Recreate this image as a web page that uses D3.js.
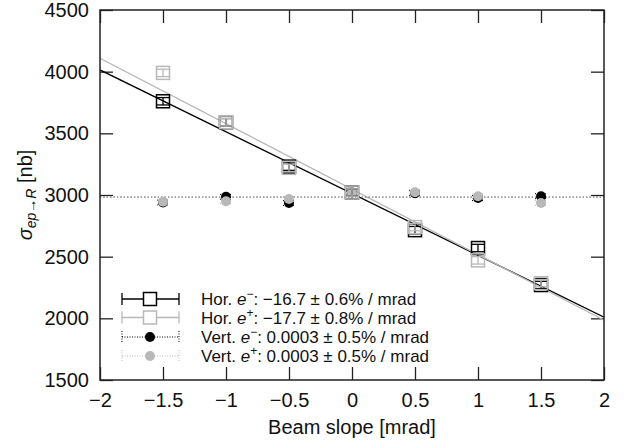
<!DOCTYPE html>
<html>
<head>
<meta charset="utf-8">
<script src="https://cdn.jsdelivr.net/npm/d3@7"></script>
<style>
  html, body { margin: 0; padding: 0; background: #fff; }
  svg { display: block; font-family: "Liberation Sans", Arial, sans-serif; }
</style>
</head>
<body>
<svg id="chart" width="638" height="441"></svg>
<script>
// ---- data ----
const slopes = [-1.5, -1, -0.5, 0, 0.5, 1, 1.5];
const horElectron = [3760, 3590, 3230, 3020, 2715, 2570, 2270];
const horElectronErr = [30, 30, 30, 30, 30, 30, 30];
const horPositron = [3990, 3590, 3220, 3020, 2740, 2470, 2285];
const horPositronErr = [30, 30, 30, 30, 30, 30, 30];
const vertElectron = [2940, 2985, 2935, 3020, 3015, 2975, 2990];
const vertElectronErr = [20, 20, 20, 20, 20, 20, 20];
const vertPositron = [2945, 2950, 2968, 3020, 3022, 2990, 2935];
const vertPositronErr = [20, 20, 20, 20, 20, 20, 20];
const fitIntercepts = [3012, 3047, 2982, 2982];
const fitSlopes = [-501, -531, 0, 0];
const xTicks = [-2, -1.5, -1, -0.5, 0, 0.5, 1, 1.5, 2];
const yTicks = [1500, 2000, 2500, 3000, 3500, 4000, 4500];
const legendSeries = ["Hor.", "Hor.", "Vert.", "Vert."];
const legendCharge = ["−", "+", "−", "+"];
const legendValues = ["−16.7 ± 0.6% / mrad", "−17.7 ± 0.8% / mrad", "0.0003 ± 0.5% / mrad", "0.0003 ± 0.5% / mrad"];

// ---- layout ----
const svg = d3.select("#chart");
const L = 100, R = 604, T = 10, B = 380;
const x = d3.scaleLinear().domain([-2, 2]).range([L, R]);
const y = d3.scaleLinear().domain([1500, 4500]).range([B, T]);
const BLACK = "#000", GREY = "#b8b8b8", AXIS = "#222";
const FS = 20;

const series = [
  {vals: horElectron, errs: horElectronErr, color: BLACK, kind: "square"},
  {vals: horPositron, errs: horPositronErr, color: GREY, kind: "square"},
  {vals: vertElectron, errs: vertElectronErr, color: BLACK, kind: "dot"},
  {vals: vertPositron, errs: vertPositronErr, color: GREY, kind: "dot"}
];

svg.append("defs").append("clipPath").attr("id", "clip")
  .append("rect").attr("x", L).attr("y", T).attr("width", R - L).attr("height", B - T);

// axes (inward ticks on all sides)
const tk = 13;
const gx = svg.append("g").attr("transform", `translate(0,${B})`)
  .call(d3.axisBottom(x).tickValues(xTicks).tickSize(-tk).tickPadding(13).tickFormat(d3.format("")));
const gxt = svg.append("g").attr("transform", `translate(0,${T})`)
  .call(d3.axisTop(x).tickValues(xTicks).tickSize(-tk).tickFormat(""));
const gy = svg.append("g").attr("transform", `translate(${L},0)`)
  .call(d3.axisLeft(y).tickValues(yTicks).tickSize(-tk).tickPadding(11).tickFormat(d3.format("d")));
const gyr = svg.append("g").attr("transform", `translate(${R},0)`)
  .call(d3.axisRight(y).tickValues(yTicks).tickSize(-tk).tickFormat(""));
[gx, gxt, gy, gyr].forEach(g => {
  g.select(".domain").remove();
  g.selectAll(".tick line").attr("stroke", AXIS).attr("stroke-width", 1.3);
  g.selectAll("text").attr("font-size", FS).attr("fill", "#111")
    .attr("font-family", "Liberation Sans, Arial, sans-serif");
});

// fit lines
const fitG = svg.append("g").attr("clip-path", "url(#clip)");
const fitStyles = [
  {color: BLACK, w: 1.3, dash: null},
  {color: GREY, w: 1.3, dash: null},
  {color: "#333", w: 1.2, dash: "1.2,2.2"},
  {color: GREY, w: 1.2, dash: "1.2,2.2"}
];
fitIntercepts.forEach((a, i) => {
  const b = fitSlopes[i];
  fitG.append("line")
    .attr("x1", x(-2)).attr("y1", y(a + b * -2))
    .attr("x2", x(2)).attr("y2", y(a + b * 2))
    .attr("stroke", fitStyles[i].color).attr("stroke-width", fitStyles[i].w)
    .attr("stroke-dasharray", fitStyles[i].dash);
});

// data points
const sq = 13;
function drawSquare(g, cx, cy, yTop, yBot, color) {
  g.append("line").attr("x1", cx).attr("x2", cx).attr("y1", yTop).attr("y2", yBot)
    .attr("stroke", color).attr("stroke-width", 1.3);
  [yTop, yBot].forEach(yy => g.append("line")
    .attr("x1", cx - sq / 2).attr("x2", cx + sq / 2).attr("y1", yy).attr("y2", yy)
    .attr("stroke", color).attr("stroke-width", 1.3));
  g.append("rect").attr("x", cx - sq / 2).attr("y", cy - sq / 2)
    .attr("width", sq).attr("height", sq)
    .attr("fill", "none").attr("stroke", color).attr("stroke-width", 1.5);
}
function drawDot(g, cx, cy, yTop, yBot, color) {
  const dash = "1,1.5";
  g.append("line").attr("x1", cx).attr("x2", cx).attr("y1", yTop).attr("y2", yBot)
    .attr("stroke", color).attr("stroke-width", 1).attr("stroke-dasharray", dash);
  [yTop, yBot].forEach(yy => g.append("line")
    .attr("x1", cx - 6).attr("x2", cx + 6).attr("y1", yy).attr("y2", yy)
    .attr("stroke", color).attr("stroke-width", 1).attr("stroke-dasharray", dash));
  g.append("circle").attr("cx", cx).attr("cy", cy).attr("r", 5).attr("fill", color);
}
const ptsG = svg.append("g");
[2, 3, 0, 1].forEach(si => {
  const s = series[si];
  slopes.forEach((sx, i) => {
    const v = s.vals[i], e = s.errs[i];
    const fn = s.kind === "square" ? drawSquare : drawDot;
    fn(ptsG, x(sx), y(v), y(v + e), y(v - e), s.color);
  });
});

// frame
svg.append("rect").attr("x", L).attr("y", T).attr("width", R - L).attr("height", B - T)
  .attr("fill", "none").attr("stroke", AXIS).attr("stroke-width", 1.5);

// legend
const legRows = [299, 317.5, 337, 356];
const lx1 = 122, lx2 = 179, lmid = 150;
const LFS = 17;
const legG = svg.append("g");
legRows.forEach((ry, i) => {
  const s = series[i];
  const isSq = s.kind === "square";
  const dash = isSq ? null : "1,1.5";
  const sw = isSq ? 1.3 : 1;
  legG.append("line").attr("x1", lx1).attr("x2", lx2).attr("y1", ry).attr("y2", ry)
    .attr("stroke", s.color).attr("stroke-width", sw).attr("stroke-dasharray", dash);
  [lx1, lx2].forEach(xx => legG.append("line").attr("x1", xx).attr("x2", xx)
    .attr("y1", ry - 6).attr("y2", ry + 6)
    .attr("stroke", s.color).attr("stroke-width", sw).attr("stroke-dasharray", dash));
  if (isSq) {
    legG.append("rect").attr("x", lmid - sq / 2).attr("y", ry - sq / 2).attr("width", sq).attr("height", sq)
      .attr("fill", "#fff").attr("stroke", s.color).attr("stroke-width", 1.5);
  } else {
    legG.append("circle").attr("cx", lmid).attr("cy", ry).attr("r", 5).attr("fill", s.color);
  }
  const t = legG.append("text").attr("x", 201).attr("y", ry + 6)
    .attr("font-size", LFS).attr("fill", "#111");
  t.append("tspan").text(legendSeries[i] + " ");
  t.append("tspan").attr("font-style", "italic").text("e");
  t.append("tspan").attr("font-size", 12).attr("dy", -7).text(legendCharge[i]);
  t.append("tspan").attr("dy", 7).text(": " + legendValues[i]);
});

// axis titles
svg.append("text").attr("x", (L + R) / 2).attr("y", 434).attr("text-anchor", "middle")
  .attr("font-size", FS).attr("fill", "#111").text("Beam slope [mrad]");
const yl = svg.append("text").attr("transform", `translate(32,${(T + B) / 2}) rotate(-90)`)
  .attr("text-anchor", "middle").attr("font-size", FS).attr("fill", "#111");
yl.append("tspan").attr("font-style", "italic").text("σ");
yl.append("tspan").attr("font-style", "italic").attr("font-size", 14).attr("dy", 4).text("ep→R");
yl.append("tspan").attr("dy", -4).text(" [nb]");
</script>
</body>
</html>
